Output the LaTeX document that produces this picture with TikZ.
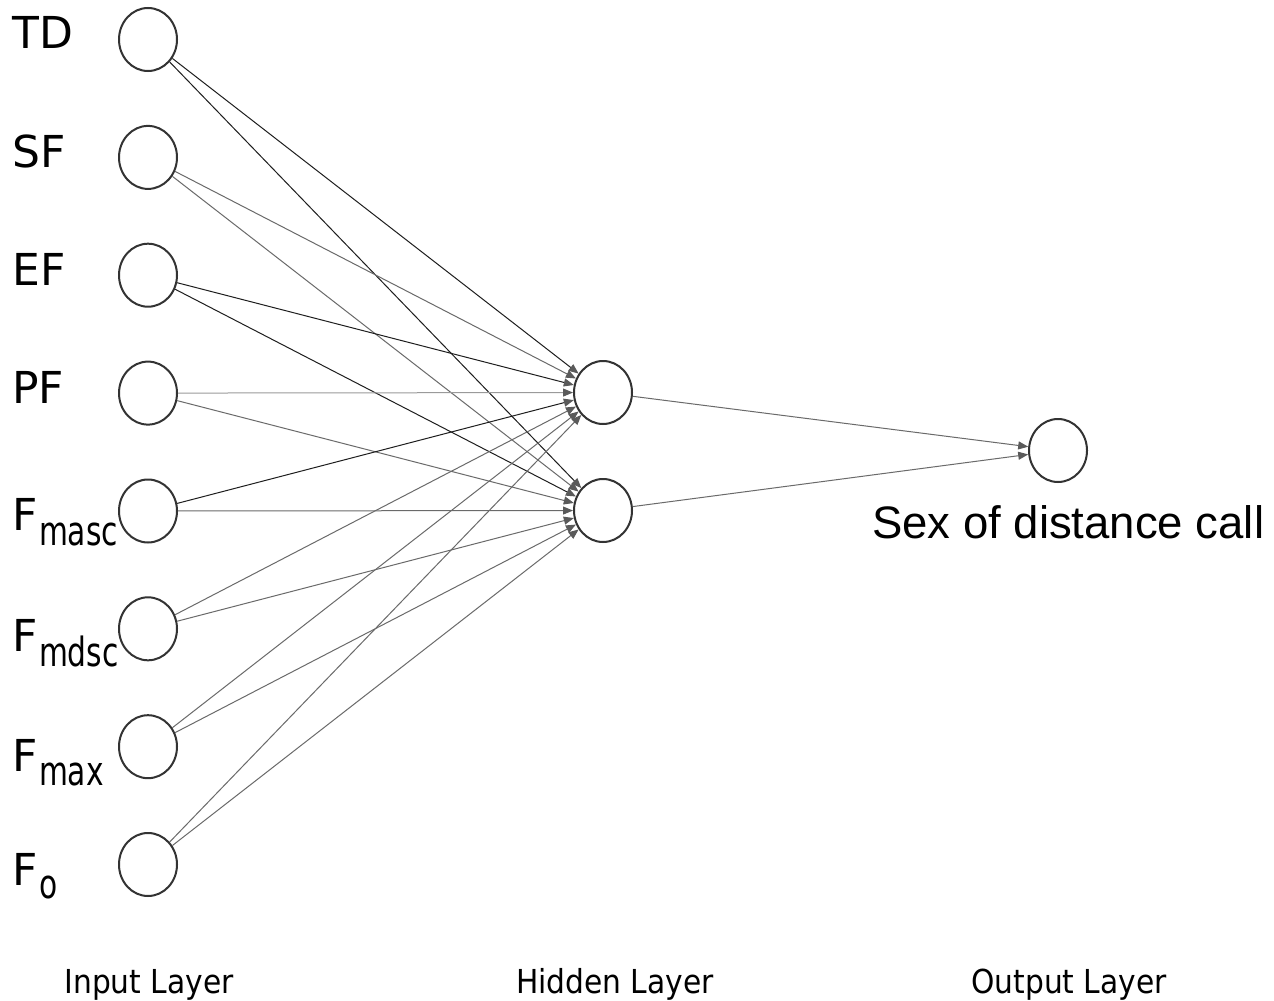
\documentclass[tikz,border=0pt]{standalone}
\usepackage{fontspec}
\usepackage{graphicx}
\usetikzlibrary{shapes.geometric,arrows.meta}
\setmainfont{Liberation Sans}
\newfontfamily\lblfont{DejaVu Sans}
\newfontfamily\subfont{DejaVu Sans Condensed}
\newfontfamily\layerfont{DejaVu Sans Condensed}
\definecolor{edgedark}{HTML}{1E1E1E}
\definecolor{edgemid}{HTML}{6A6A6A}
\definecolor{edgelight}{HTML}{9A9A9A}
\definecolor{tipgray}{HTML}{5A5A5A}
\newcommand{\inlbl}[1]{{\lblfont\fontsize{44}{50}\selectfont #1}}
\newcommand{\subidx}[2]{\kern1.5pt\raisebox{-#2pt}{\subfont\fontsize{33}{36}\selectfont\scalebox{1}[1.22]{#1}}}
\tikzset{
  neuron/.style={ellipse, draw=black!80, line width=2pt, fill=white,
    minimum width=58pt, minimum height=63pt, inner sep=0pt},
  syn/.style={line width=1pt,
    -{Triangle[length=10pt,width=8pt,color=tipgray]}},
  dark/.style={syn, draw=edgedark},
  mid/.style={syn, draw=edgemid},
  light/.style={syn, draw=edgelight},
  inlabel/.style={anchor=base west, inner sep=0pt},
  layerlabel/.style={anchor=base, inner sep=0pt,
    font=\layerfont\fontsize{33}{36}\selectfont}
}
\begin{document}
\begin{tikzpicture}[x=1pt,y=-1pt]
\useasboundingbox[fill=white] (0,0) rectangle (1274,1001);

% input layer
\node[neuron] (i1) at (148,39.5) {};
\node[neuron] (i2) at (148,157.4) {};
\node[neuron] (i3) at (148,275.2) {};
\node[neuron] (i4) at (148,393.1) {};
\node[neuron] (i5) at (148,511) {};
\node[neuron] (i6) at (148,628.8) {};
\node[neuron] (i7) at (148,746.7) {};
\node[neuron] (i8) at (148,864.5) {};

% hidden layer
\node[neuron] (h1) at (603,392.5) {};
\node[neuron] (h2) at (603,510.5) {};

% output layer
\node[neuron] (o1) at (1058,450.5) {};

% input labels
\node[inlabel] (l1) at (12,48) {\inlbl{TD}};
\node[inlabel] (l2) at (12,167) {\inlbl{SF}};
\node[inlabel] (l3) at (12,285) {\inlbl{EF}};
\node[inlabel] (l4) at (12,403) {\inlbl{PF}};
\node[inlabel] (l5) at (12,530) {\inlbl{F\subidx{masc}{15}}};
\node[inlabel] (l6) at (12,651) {\inlbl{F\subidx{mdsc}{15}}};
\node[inlabel] (l7) at (12,771) {\inlbl{F\subidx{max}{14}}};
\node[inlabel] (l8) at (12,885) {\inlbl{F\subidx{o}{13}}};

% output label
\node[anchor=base west, inner sep=0pt, font=\fontsize{45.5}{50}\selectfont]
  (ol) at (872,538) {Sex of distance call};

% layer captions
\node[layerlabel] (c1) at (149,993) {Input Layer};
\node[layerlabel] (c2) at (615,993) {Hidden Layer};
\node[layerlabel] (c3) at (1069,993) {Output Layer};

% input -> hidden connections
\draw[dark] (i1) -- (h1);
\draw[dark] (i1) -- (h2);
\draw[mid] (i2) -- (h1);
\draw[mid] (i2) -- (h2);
\draw[dark] (i3) -- (h1);
\draw[dark] (i3) -- (h2);
\draw[light] (i4) -- (h1);
\draw[mid] (i4) -- (h2);
\draw[dark] (i5) -- (h1);
\draw[mid] (i5) -- (h2);
\draw[mid] (i6) -- (h1);
\draw[mid] (i6) -- (h2);
\draw[mid] (i7) -- (h1);
\draw[mid] (i7) -- (h2);
\draw[mid] (i8) -- (h1);
\draw[mid] (i8) -- (h2);

% hidden -> output connections
\draw[mid] (h1) -- (o1);
\draw[mid] (h2) -- (o1);
\end{tikzpicture}
\end{document}
